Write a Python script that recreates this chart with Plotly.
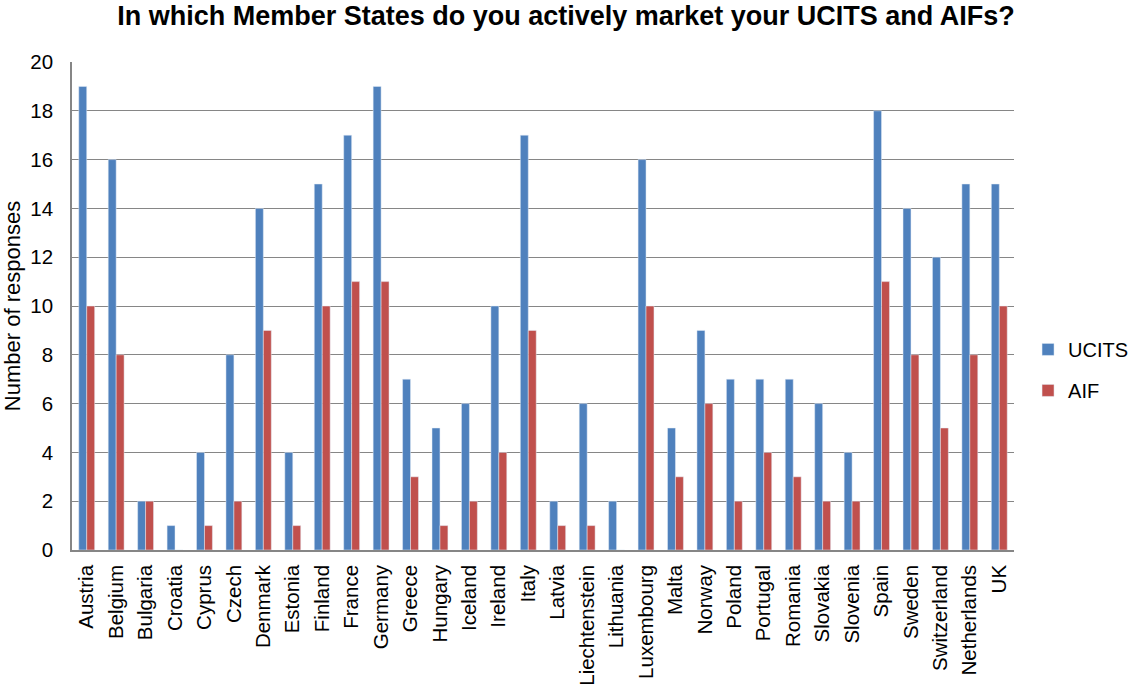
import plotly.graph_objects as go

countries = ["Austria", "Belgium", "Bulgaria", "Croatia", "Cyprus", "Czech", "Denmark",
             "Estonia", "Finland", "France", "Germany", "Greece", "Hungary", "Iceland",
             "Ireland", "Italy", "Latvia", "Liechtenstein", "Lithuania", "Luxembourg",
             "Malta", "Norway", "Poland", "Portugal", "Romania", "Slovakia", "Slovenia",
             "Spain", "Sweden", "Switzerland", "Netherlands", "UK"]
ucits = [19, 16, 2, 1, 4, 8, 14, 4, 15, 17, 19, 7, 5, 6, 10, 17, 2, 6, 2, 16,
         5, 9, 7, 7, 7, 6, 4, 18, 14, 12, 15, 15]
aif = [10, 8, 2, 0, 1, 2, 9, 1, 10, 11, 11, 3, 1, 2, 4, 9, 1, 1, 0, 10,
       3, 6, 2, 4, 3, 2, 2, 11, 8, 5, 8, 10]

fig = go.Figure()
fig.add_trace(go.Bar(x=countries, y=ucits, name="UCITS", marker_color="#4F81BD",
                     legendgroup="ucits"))
fig.add_trace(go.Bar(x=countries, y=aif, name="AIF", marker_color="#C0504D",
                     legendgroup="aif"))

# figure a bit wider than the window so the legend doesn't push the plot area
fig.update_layout(
    width=1165, height=689,
    margin=dict(l=72, r=151, t=62, b=139),
    paper_bgcolor="white", plot_bgcolor="white",
    font=dict(family="Liberation Sans, Arial, sans-serif", size=20.5, color="black"),
    title=dict(text="<b>In which Member States do you actively market your UCITS and AIFs?</b>",
               x=566 / 1165, xanchor="center", y=0.978, yanchor="middle",
               font=dict(size=27)),
    barmode="group", bargap=0.46, bargroupgap=0,
    legend=dict(x=1.0149, xanchor="left", y=0.369, yanchor="middle",
                font=dict(size=20), tracegroupgap=12, itemwidth=30),
    showlegend=True,
)
fig.update_xaxes(tickangle=-90, showline=True, linecolor="#868686", linewidth=1.5,
                 ticks="", ticklabelstandoff=5, automargin=False)
fig.update_yaxes(range=[0, 20], dtick=2, showgrid=True, gridcolor="#868686", gridwidth=1.3,
                 showline=True, linecolor="#868686", linewidth=1.5, zeroline=False,
                 ticks="", ticklabelstandoff=13, automargin=False,
                 title=dict(text="Number of responses", standoff=8, font=dict(size=22)))

fig.write_html("out.html", config={"displayModeBar": False},
               post_script="document.body.style.margin='0';")
